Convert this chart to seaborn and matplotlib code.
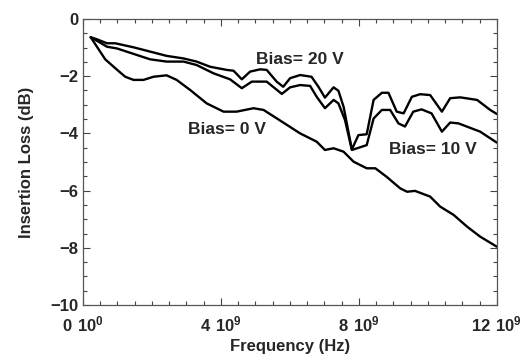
import numpy as np, pandas as pd
import matplotlib
matplotlib.use('Agg')
import matplotlib.pyplot as plt
import seaborn as sns
from matplotlib.ticker import MultipleLocator

# Frequency (GHz) and insertion loss (dB):
freq20 = [0.23, 0.41, 0.70, 0.94, 1.47, 1.95, 2.43, 2.92, 3.30, 3.69, 4.17, 4.37, 4.61, 4.85, 5.14, 5.33,
          5.62, 5.81, 6.01, 6.30, 6.63, 6.83, 7.02, 7.27, 7.41, 7.56, 7.80, 7.99, 8.23, 8.43, 8.67, 8.86,
          9.10, 9.30, 9.54, 9.78, 10.07, 10.41, 10.65, 10.94, 11.43, 11.81, 12.0]
loss20 = [-0.64, -0.71, -0.85, -0.85, -0.99, -1.14, -1.29, -1.38, -1.49, -1.67, -1.78, -1.81, -2.11, -1.84,
          -1.76, -1.78, -2.19, -2.37, -2.07, -1.96, -2.02, -2.37, -2.75, -2.39, -2.51, -3.07, -4.56, -4.06,
          -4.03, -2.83, -2.58, -2.58, -3.24, -3.30, -2.72, -2.63, -2.66, -3.24, -2.77, -2.74, -2.83, -3.18, -3.32]

freq10 = [0.23, 0.45, 0.70, 0.99, 1.47, 1.95, 2.43, 2.92, 3.30, 3.79, 4.27, 4.61, 4.90, 5.33, 5.77, 6.01,
          6.30, 6.59, 6.78, 7.02, 7.27, 7.41, 7.60, 7.80, 8.23, 8.43, 8.67, 8.91, 9.15, 9.34, 9.58, 9.82,
          10.11, 10.41, 10.65, 10.89, 11.52, 11.81, 12.0]
loss10 = [-0.64, -0.79, -0.97, -1.03, -1.22, -1.41, -1.49, -1.49, -1.61, -1.90, -2.11, -2.42, -2.19, -2.19,
          -2.62, -2.39, -2.31, -2.34, -2.72, -3.12, -2.83, -2.95, -3.53, -4.58, -4.41, -3.48, -3.18, -3.18,
          -3.65, -3.76, -3.24, -3.16, -3.30, -3.94, -3.62, -3.65, -3.94, -4.17, -4.32]

freq0 = [0.23, 0.41, 0.65, 0.94, 1.23, 1.47, 1.76, 2.05, 2.43, 2.72, 3.11, 3.59, 4.08, 4.46, 4.95, 5.24,
         5.72, 6.30, 6.78, 7.02, 7.27, 7.56, 7.85, 8.23, 8.48, 8.81, 9.20, 9.40, 9.63, 10.07, 10.36, 10.75,
         11.14, 11.52, 12.0]
loss0 = [-0.64, -0.97, -1.41, -1.72, -2.02, -2.13, -2.13, -2.02, -1.97, -2.13, -2.48, -2.95, -3.24, -3.24,
         -3.12, -3.18, -3.55, -4.00, -4.29, -4.58, -4.52, -4.64, -4.99, -5.22, -5.22, -5.52, -5.92, -6.04,
         -6.01, -6.21, -6.56, -6.85, -7.26, -7.61, -7.96]

xTicks = [0, 4e9, 8e9, 12e9]
xTickLabels = [r'$\mathbf{0\ 10^{0}}$', r'$\mathbf{4\ 10^{9}}$', r'$\mathbf{8\ 10^{9}}$', r'$\mathbf{12\ 10^{9}}$']

sns.set_style('ticks')
plt.rcParams['font.family'] = ['Liberation Sans', 'DejaVu Sans']
plt.rcParams['font.weight'] = 'bold'
plt.rcParams['mathtext.fontset'] = 'custom'
plt.rcParams['mathtext.bf'] = 'Liberation Sans:bold'
plt.rcParams['mathtext.rm'] = 'Liberation Sans:bold'

fig = plt.figure(figsize=(5.24, 3.58), dpi=100)
ax = fig.add_axes([0.158, 0.148, 0.79, 0.799])

# Plot each bias curve:
for eachFreq, eachLoss in [(freq20, loss20), (freq10, loss10), (freq0, loss0)]:
    df = pd.DataFrame({'f': np.array(eachFreq) * 1e9, 'loss': eachLoss})
    sns.lineplot(data=df, x='f', y='loss', color='black', linewidth=1.7, ax=ax, sort=False)

ax.set_xlim(0, 12e9)
ax.set_ylim(-10, 0)
ax.set_xticks(xTicks)
ax.set_xticklabels(xTickLabels)
ax.xaxis.set_minor_locator(MultipleLocator(0.5e9))
ax.yaxis.set_major_locator(MultipleLocator(2))
ax.yaxis.set_minor_locator(MultipleLocator(0.5))
ax.tick_params(which='both', direction='in', top=True, right=True, labelsize=12, width=0.8, color='#444444')
ax.tick_params(which='major', length=5)
ax.tick_params(which='minor', length=3)
ax.tick_params(axis='x', pad=7)
ax.tick_params(axis='y', pad=3)
for s in ax.spines.values():
    s.set_linewidth(0.9)
    s.set_color('#555555')
for lab in ax.get_yticklabels():
    lab.set_fontweight('bold')

ax.set_xlabel('Frequency (Hz)', fontsize=12, fontweight='bold', labelpad=3)
ax.set_ylabel('Insertion Loss (dB)', fontsize=12, fontweight='bold', labelpad=12)

ax.text(6.3e9, -1.43, 'Bias= 20 V', fontsize=12.5, fontweight='bold', ha='center', va='center')
ax.text(4.17e9, -3.88, 'Bias= 0 V', fontsize=12.5, fontweight='bold', ha='center', va='center')
ax.text(10.16e9, -4.56, 'Bias= 10 V', fontsize=12.5, fontweight='bold', ha='center', va='center')

plt.savefig('out.png', dpi=100)
